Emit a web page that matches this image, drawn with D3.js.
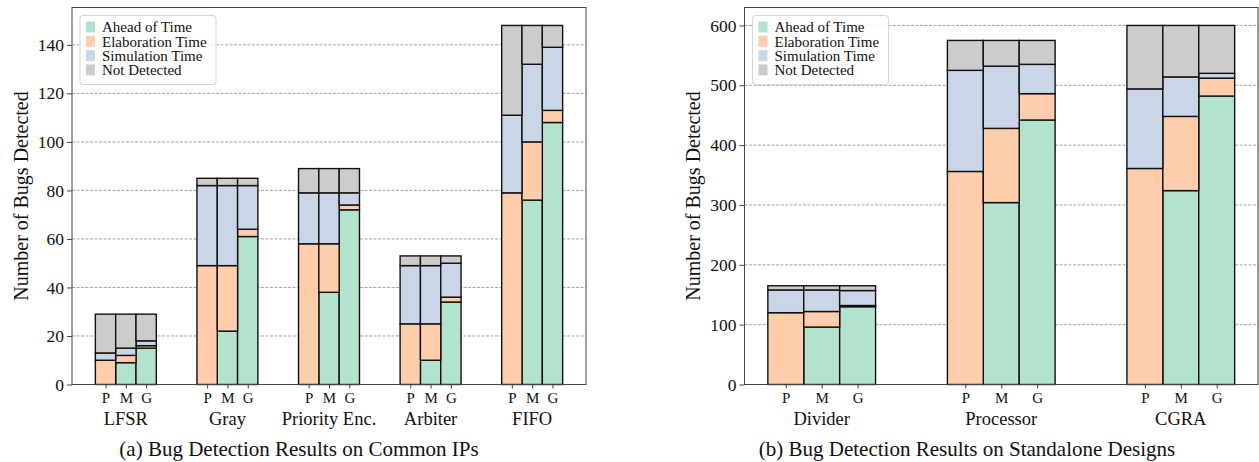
<!DOCTYPE html>
<html>
<head>
<meta charset="utf-8">
<script src="https://cdn.jsdelivr.net/npm/d3@7"></script>
<style>
  body { margin: 0; background: #fff; }
</style>
</head>
<body>
<div id="chart"></div>
<script>
// --- data ---
var methods = ["P", "M", "G"];
var seriesKeys = ["ahead", "elab", "sim", "nd"];
var seriesNames = ["Ahead of Time", "Elaboration Time", "Simulation Time", "Not Detected"];
var seriesColors = ["#b3e2cd", "#fdcdac", "#cbd5e8", "#cccccc"];

// (a) common IPs, one inner array per group, values for P, M, G
var ipGroups = ["LFSR", "Gray", "Priority Enc.", "Arbiter", "FIFO"];
var ipAhead = [[0, 9, 15], [0, 22, 61], [0, 38, 72], [0, 10, 34], [0, 76, 108]];
var ipElab  = [[10, 3, 1], [49, 27, 3], [58, 20, 2], [25, 15, 2], [79, 24, 5]];
var ipSim   = [[3, 3, 2], [33, 33, 18], [21, 21, 5], [24, 24, 14], [32, 32, 26]];
var ipNd    = [[16, 14, 11], [3, 3, 3], [10, 10, 10], [4, 4, 3], [37, 16, 9]];
var ipTicks = [0, 20, 40, 60, 80, 100, 120, 140];

// (b) standalone designs
var sdGroups = ["Divider", "Processor", "CGRA"];
var sdAhead = [[0, 96, 130], [0, 304, 442], [0, 324, 482]];
var sdElab  = [[120, 26, 2], [356, 124, 44], [361, 124, 30]];
var sdSim   = [[38, 36, 25], [169, 104, 49], [133, 66, 8]];
var sdNd    = [[7, 7, 8], [50, 43, 40], [106, 86, 80]];
var sdTicks = [0, 100, 200, 300, 400, 500, 600];

var FONT = "'Liberation Serif'";

var W = 1259, H = 462;
var svg = d3.select("#chart").append("svg")
    .attr("width", W)
    .attr("height", H);

function rowsFor(groups, a, e, s, n) {
    var rows = [];
    groups.forEach(function(g, gi) {
        methods.forEach(function(m, mi) {
            rows.push({ gi: gi, mi: mi, ahead: a[gi][mi], elab: e[gi][mi], sim: s[gi][mi], nd: n[gi][mi] });
        });
    });
    return rows;
}

function drawPanel(cfg) {
    var rows = rowsFor(cfg.groups, cfg.ahead, cfg.elab, cfg.sim, cfg.nd);
    var totals = rows.map(function(d) { return d.ahead + d.elab + d.sim + d.nd; });
    var n = cfg.groups.length;

    // matplotlib style margins: 5% around the data
    var xLo = -0.3, xHi = n - 1 + 0.3, xPad = (xHi - xLo) * 0.05;
    var x = d3.scaleLinear()
        .domain([xLo - xPad, xHi + xPad])
        .range([cfg.left, cfg.right]);
    var y = d3.scaleLinear()
        .domain([0, d3.max(totals) * 1.05])
        .range([cfg.bottom, cfg.top]);

    var g = svg.append("g");

    // grid
    g.append("g").selectAll("line")
        .data(cfg.ticks.slice(1))
        .enter().append("line")
        .attr("x1", cfg.left).attr("x2", cfg.right)
        .attr("y1", function(d) { return y(d); })
        .attr("y2", function(d) { return y(d); })
        .attr("stroke", "#9a9a9a")
        .attr("stroke-width", 0.9)
        .attr("stroke-dasharray", "3,1.5");

    var stack = d3.stack().keys(seriesKeys)(rows);
    var barW = x(0.2) - x(0);

    var layer = g.selectAll(".layer")
        .data(stack)
        .enter().append("g").attr("class", "layer")
        .attr("fill", function(d, i) { return seriesColors[i]; });

    layer.selectAll("rect")
        .data(function(d) { return d; })
        .enter().append("rect")
        .attr("x", function(d) { return x(d.data.gi + (d.data.mi - 1) * 0.2) - barW / 2; })
        .attr("width", barW)
        .attr("y", function(d) { return y(d[1]); })
        .attr("height", function(d) { return y(d[0]) - y(d[1]); })
        .attr("stroke", "#111")
        .attr("stroke-width", 1.4);

    // frame
    g.append("rect")
        .attr("x", cfg.left).attr("y", cfg.top)
        .attr("width", cfg.right - cfg.left)
        .attr("height", cfg.bottom - cfg.top)
        .attr("fill", "none")
        .attr("stroke", "#444")
        .attr("stroke-width", 1);

    // y axis
    var yAxis = d3.axisLeft(y).tickValues(cfg.ticks).tickSizeOuter(0).tickSize(5).tickPadding(3);
    var ay = g.append("g")
        .attr("transform", "translate(" + cfg.left + ",0)")
        .call(yAxis);
    ay.select(".domain").remove();
    ay.selectAll("line").attr("stroke", "#444");
    ay.selectAll("text")
        .style("font-family", FONT)
        .style("font-size", "17.5px")
        .attr("fill", "#111");

    g.append("text")
        .attr("transform", "translate(" + cfg.ylabelX + "," + ((cfg.top + cfg.bottom) / 2) + ") rotate(-90)")
        .attr("text-anchor", "middle")
        .attr("dy", "0.35em")
        .style("font-family", FONT)
        .style("font-size", "20px")
        .attr("fill", "#111")
        .text("Number of Bugs Detected");

    // x ticks P M G
    var xPos = [];
    var xLab = [];
    cfg.groups.forEach(function(gr, gi) {
        methods.forEach(function(m, mi) {
            xPos.push(gi + (mi - 1) * 0.2);
            xLab.push(m);
        });
    });
    var xAxis = d3.axisBottom(x).tickValues(xPos)
        .tickFormat(function(d, i) { return xLab[i]; })
        .tickSizeOuter(0).tickSize(4).tickPadding(4);
    var ax = g.append("g")
        .attr("transform", "translate(0," + cfg.bottom + ")")
        .call(xAxis);
    ax.select(".domain").remove();
    ax.selectAll("line").attr("stroke", "#444");
    ax.selectAll("text")
        .style("font-family", FONT)
        .style("font-size", "15px")
        .attr("fill", "#111");

    g.selectAll(".glabel")
        .data(cfg.groups)
        .enter().append("text")
        .attr("class", "glabel")
        .attr("x", function(d, i) { return x(i); })
        .attr("y", cfg.bottom + 40)
        .attr("text-anchor", "middle")
        .style("font-family", FONT)
        .style("font-size", "18.5px")
        .attr("fill", "#111")
        .text(function(d) { return d; });

    g.append("text")
        .attr("x", cfg.captionX)
        .attr("y", cfg.bottom + 71.5)
        .attr("text-anchor", "middle")
        .style("font-family", FONT)
        .style("font-size", "21px")
        .attr("fill", "#111")
        .text(cfg.caption);

    // legend
    var lg = g.append("g").attr("transform", "translate(" + (cfg.left + 8) + "," + (cfg.top + 8) + ")");
    lg.append("rect")
        .attr("width", 136).attr("height", 69)
        .attr("rx", 3)
        .attr("fill", "#fff").attr("fill-opacity", 0.85)
        .attr("stroke", "#d6d6d6");
    var item = lg.selectAll(".item")
        .data(seriesNames)
        .enter().append("g").attr("class", "item")
        .attr("transform", function(d, i) { return "translate(6," + (6 + i * 14.3) + ")"; });
    item.append("rect")
        .attr("width", 9).attr("height", 11)
        .attr("fill", function(d, i) { return seriesColors[i]; });
    item.append("text")
        .attr("x", 16).attr("y", 5.5)
        .attr("dy", "0.35em")
        .style("font-family", FONT)
        .style("font-size", "15px")
        .attr("fill", "#111")
        .text(function(d) { return d; });
}

drawPanel({
    groups: ipGroups, ahead: ipAhead, elab: ipElab, sim: ipSim, nd: ipNd, ticks: ipTicks,
    left: 72, right: 586, top: 7.5, bottom: 384.5, ylabelX: 21, captionX: 299,
    caption: "(a) Bug Detection Results on Common IPs"
});

drawPanel({
    groups: sdGroups, ahead: sdAhead, elab: sdElab, sim: sdSim, nd: sdNd, ticks: sdTicks,
    left: 744.5, right: 1258, top: 7.5, bottom: 384.5, ylabelX: 693, captionX: 967,
    caption: "(b) Bug Detection Results on Standalone Designs"
});
</script>
</body>
</html>
